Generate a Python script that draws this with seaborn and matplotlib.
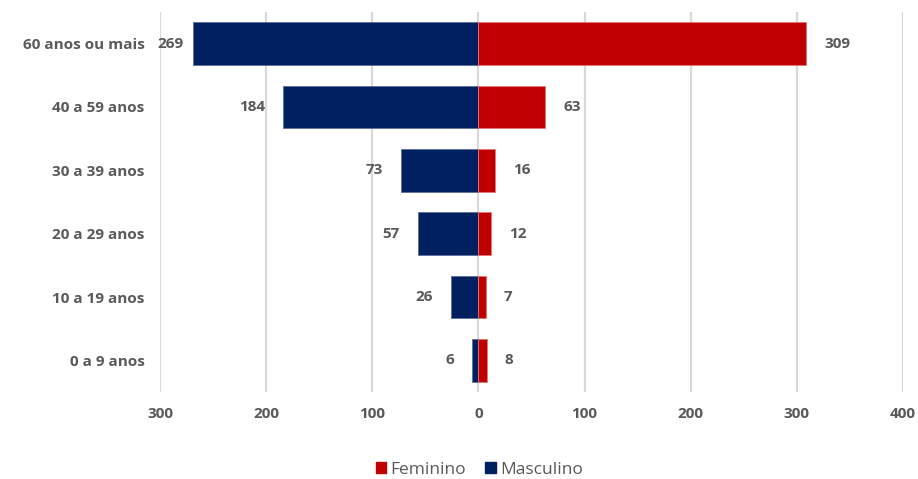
import matplotlib
matplotlib.use("Agg")
import matplotlib.pyplot as plt
import matplotlib.ticker as mticker
from matplotlib.patches import Patch
import pandas as pd
import seaborn as sns

faixas = ["60 anos ou mais", "40 a 59 anos", "30 a 39 anos",
          "20 a 29 anos", "10 a 19 anos", "0 a 9 anos"]
feminino = [309, 63, 16, 12, 7, 8]
masculino = [269, 184, 73, 57, 26, 6]

cor_fem = "#C00000"
cor_masc = "#002060"
cinza = "#595959"

df = pd.DataFrame({"faixa": faixas,
                   "Feminino": feminino,
                   "Masculino": [-v for v in masculino]})

sns.set_style("white")
plt.rcParams["font.family"] = ["Open Sans", "DejaVu Sans"]

fig = plt.figure(figsize=(9.18, 4.79), dpi=100)
ax = fig.add_axes([0.1743, 0.1816, 0.8094, 0.7934])

sns.barplot(data=df, y="faixa", x="Masculino", order=faixas, color=cor_masc,
            width=0.67, orient="h", ax=ax, edgecolor="#5a6f9a", linewidth=0.6,
            saturation=1)
sns.barplot(data=df, y="faixa", x="Feminino", order=faixas, color=cor_fem,
            width=0.67, orient="h", ax=ax, edgecolor="#e07a7a", linewidth=0.6,
            saturation=1)

ax.set_xlim(-300, 400)
ax.xaxis.set_major_locator(mticker.MultipleLocator(100))
ax.xaxis.set_major_formatter(mticker.FuncFormatter(lambda v, p: f"{abs(int(v))}"))
ax.grid(axis="x", color="#D9D9D9", linewidth=1.6)
ax.set_axisbelow(True)
for s in ax.spines.values():
    s.set_visible(False)
ax.set_xlabel("")
ax.set_ylabel("")
ax.tick_params(axis="both", length=0, labelcolor=cinza, labelsize=11)
ax.tick_params(axis="y", pad=11)
ax.tick_params(axis="x", pad=11)
for lbl in ax.get_xticklabels() + ax.get_yticklabels():
    lbl.set_fontweight("bold")

cont_m, cont_f = ax.containers[0], ax.containers[1]
txt_m = ax.bar_label(cont_m, labels=[str(v) for v in masculino], padding=13,
                     color=cinza, fontsize=11, fontweight="bold")
txt_f = ax.bar_label(cont_f, labels=[str(v) for v in feminino], padding=13,
                     color=cinza, fontsize=11, fontweight="bold")
# rótulo do maior valor masculino fica junto da barra
txt_m[0].xyann = (-7, 0)

handles = [Patch(color=cor_fem, label="Feminino"),
           Patch(color=cor_masc, label="Masculino")]
leg = fig.legend(handles=handles, loc="center", bbox_to_anchor=(0.522, 0.019),
                 ncol=2, frameon=False, fontsize=12.5, handlelength=0.6,
                 handleheight=0.6, handletextpad=0.25, columnspacing=1.1)
for t in leg.get_texts():
    t.set_color(cinza)

fig.savefig("out.png", dpi=100)
